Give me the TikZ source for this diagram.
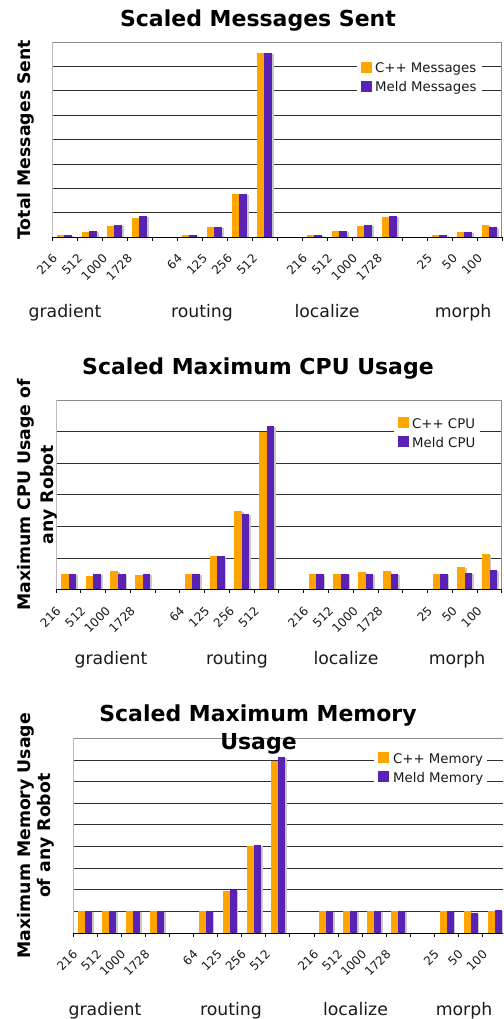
\documentclass[tikz,border=0pt]{standalone}
\usepackage{fontspec}
\setmainfont{DejaVu Sans}
\definecolor{cppc}{HTML}{FFA500}
\definecolor{meldc}{HTML}{5A22B4}
\definecolor{shc}{HTML}{C8C8C8}
\definecolor{gridc}{HTML}{303030}
\definecolor{topc}{HTML}{8C8C8C}
\definecolor{leftc}{HTML}{BBBBBB}
\definecolor{txtc}{HTML}{1A1A1A}
\newcommand\chartframe[7]{% left right top axis ngrid spacing slot
  \foreach \k in {1,...,#5} \draw[gridl] (#1,#4-\k*#6) -- (#2,#4-\k*#6);
  \draw[topl] (#1,#3) -- (#2,#3);
  \draw[leftl] (#1,#3) -- (#1,#4);
  \draw[topl] (#2,#3) -- (#2,#4);
  \foreach \i in {0,...,18} \draw[axisl] (#1+\i*#7,#4) -- ++(0,3.5);
}
\newcommand\chartbars[6]{% left slot axis offset width list
  \foreach \sl/\hcpp/\hmeld in {#6} {
    \pgfmathsetmacro\xa{#1+(\sl+#4)*#2}
    \pgfmathsetmacro\xb{\xa+#5*#2}
    \pgfmathsetmacro\xc{\xb+#5*#2}
    \fill[shc] (\xa+1.7,#3-\hcpp+1.3) rectangle (\xb+1.7,#3);
    \fill[shc] (\xb+1.7,#3-\hmeld+1.3) rectangle (\xc+1.7,#3);
    \fill[cppc] (\xa,#3-\hcpp) rectangle (\xb,#3);
    \fill[meldc] (\xb,#3-\hmeld) rectangle (\xc,#3);
  }}
\newcommand\ticklabels[4]{% prefix left slot axis
  \foreach \sl/\tx [count=\n] in {0/216,1/512,2/1000,3/1728,5/64,6/125,7/256,8/512,10/216,11/512,12/1000,13/1728,15/25,16/50,17/100}
    \node[tickl] (#1t\n) at (#2+\sl*#3+0.5*#3-9.8,#4+19) {\tx};
}
\begin{document}
\begin{tikzpicture}[x=1pt,y=-1pt,
  gridl/.style={draw=gridc,line width=0.9pt},
  topl/.style={draw=topc,line width=0.9pt},
  leftl/.style={draw=leftc,line width=0.9pt},
  axisl/.style={draw=black,line width=0.9pt},
  tickl/.style={rotate=45,anchor=east,inner sep=0pt,font=\fontsize{12}{14}\selectfont,text=txtc},
  titlel/.style={anchor=base,inner sep=0pt,font=\fontsize{22}{26}\selectfont\bfseries},
  ylab/.style={rotate=90,anchor=base,inner sep=0pt,font=\fontsize{17.3}{20}\selectfont\bfseries},
  groupl/.style={anchor=base,inner sep=0pt,font=\fontsize{17.3}{20}\selectfont,text=txtc},
  legl/.style={anchor=base west,inner sep=0pt,font=\fontsize{13.3}{15}\selectfont,text=txtc},
  legbox/.style={fill=white,draw=none}]
\useasboundingbox (0,0) rectangle (503,1019);
\begin{scope}
\clip (0,0) rectangle (503,1019);
% ---------------- chart 1
\chartframe{52.3}{501.7}{42}{237.3}{7}{24.41}{25}
\fill[legbox] (357,54) rectangle (482,101);
\chartbars{52.3}{25}{237.3}{0.18}{0.3}{0/2.3/2.3,1/5.3/6.3,2/11.3/12.3,3/19.3/21.3,5/2.3/2.3,6/10.3/10.3,7/43.3/43.3,8/184.3/184.3,10/2.3/2.3,11/6.3/6.3,12/11.3/12.3,13/20.3/21.3,15/2.3/2.3,16/5.3/5.3,17/12.3/10.3}
\draw[axisl] (52.3,237.3) -- (501.7,237.3);
\fill[cppc] (361,62) rectangle (372,73);
\fill[meldc] (361,81) rectangle (372,92);
\node[legl] (l1a) at (375,73) {C++ Messages};
\node[legl] (l1b) at (375,92) {Meld Messages};
\ticklabels{c1}{52.3}{25}{237.3}
\node[titlel] (t1) at (258,26.7) {Scaled Messages Sent};
\node[ylab] (y1) at (30,139.7) {Total Messages Sent};
\node[groupl] (g1a) at (65,317.2) {gradient};
\node[groupl] (g1b) at (202,317.2) {routing};
\node[groupl] (g1c) at (327,317.2) {localize};
\node[groupl] (g1d) at (463,317.2) {morph};
% ---------------- chart 2
\chartframe{56}{501.7}{400}{589.7}{5}{31.62}{24.77}
\fill[legbox] (394,409) rectangle (480,455);
\chartbars{56}{24.77}{589.7}{0.2}{0.305}{0/15.7/15.7,1/13.7/15.7,2/18.7/15.7,3/14.7/15.7,5/15.7/15.7,6/33.7/33.7,7/78.7/75.7,8/158/163.7,10/15.7/15.7,11/15.7/15.7,12/17.7/15.7,13/18.7/15.7,15/15.7/15.7,16/22.7/16.7,17/35.7/19.7}
\draw[axisl] (56,589.7) -- (501.7,589.7);
\fill[cppc] (398,417.3) rectangle (409,428);
\fill[meldc] (398,436.3) rectangle (409,447);
\node[legl] (l2a) at (412,428) {C++ CPU};
\node[legl] (l2b) at (412,447) {Meld CPU};
\ticklabels{c2}{56}{24.77}{589.7}
\node[titlel] (t2) at (258,374.3) {Scaled Maximum CPU Usage};
\node[ylab] (y2a) at (30.7,494.8) {Maximum CPU Usage of};
\node[ylab] (y2b) at (53.3,494.8) {any Robot};
\node[groupl] (g2a) at (111,664.8) {gradient};
\node[groupl] (g2b) at (237,664.8) {routing};
\node[groupl] (g2c) at (346,664.8) {localize};
\node[groupl] (g2d) at (457,664.8) {morph};
% ---------------- chart 3
\chartframe{73}{506.8}{738.3}{933}{8}{21.63}{24.1}
\fill[legbox] (374,744) rectangle (487,791);
\chartbars{73}{24.1}{933}{0.215}{0.29}{0/22/22,1/22/22,2/22/22,3/22/22,5/22/22,6/42.3/43.3,7/86.7/88,8/172.3/176,10/22/22,11/22/22,12/22/22,13/22/22,15/22/22,16/22/20,17/22/23}
\draw[axisl] (73,933) -- (506.8,933);
\fill[cppc] (378,752.3) rectangle (389,763);
\fill[meldc] (378,771.3) rectangle (389,782);
\node[legl] (l3a) at (393,763) {C++ Memory};
\node[legl] (l3b) at (393,782) {Meld Memory};
\ticklabels{c3}{73}{24.1}{933}
\node[ylab] (y3a) at (30.7,835.7) {Maximum Memory Usage};
\node[ylab] (y3b) at (50.7,835.7) {of any Robot};
\node[groupl] (g3a) at (105,1015.5) {gradient};
\node[groupl] (g3b) at (231,1015.5) {routing};
\node[groupl] (g3c) at (355.5,1015.5) {localize};
\node[groupl] (g3d) at (464,1015.5) {morph};
\node[titlel] (t3a) at (258,721) {Scaled Maximum Memory};
\node[titlel] (t3b) at (258.5,749.3) {Usage};
\end{scope}
\end{tikzpicture}
\end{document}
